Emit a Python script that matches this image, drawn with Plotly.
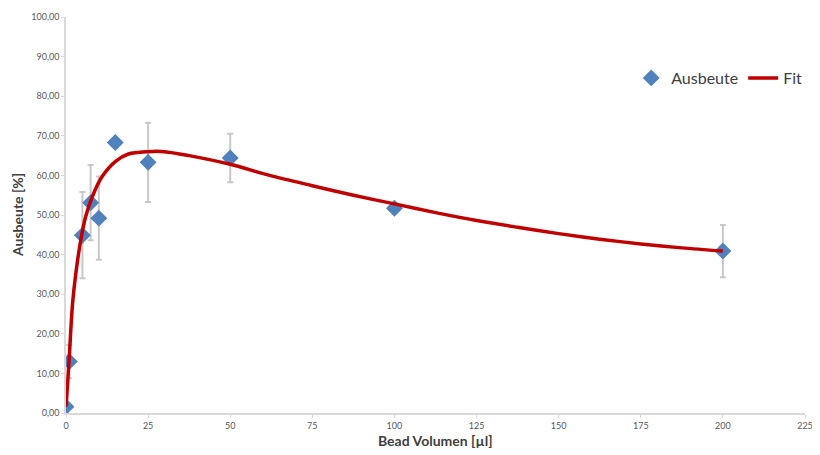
import plotly.graph_objects as go

# Measured data
bead_volume = [0, 1, 5, 7.5, 10, 15, 25, 50, 100, 200]
ausbeute = [1.6, 13.0, 44.9, 53.1, 49.2, 68.3, 63.3, 64.4, 51.7, 40.9]
ausbeute_err = [1.0, 4.2, 10.9, 9.5, 10.5, 0.0, 10.0, 6.1, 0.8, 6.6]

# Fit curve, points
fit_x = [0, 0.5, 1, 2, 3, 4.5, 6, 8, 11, 15, 19, 25, 30, 37.5, 50, 62, 75, 87.5,
         100, 112.5, 125, 137.5, 150, 162.5, 175, 187.5, 200]
fit_y = [1.6, 7.5, 14.2, 27.7, 35.3, 43.7, 49.6, 54.6, 59.7, 63.5, 65.4, 66.0, 66.0, 65.0, 62.8, 60.0, 57.4, 55.0,
         52.8, 50.6, 48.6, 46.9, 45.3, 43.9, 42.7, 41.7, 40.9]

y_ticks = [0, 10, 20, 30, 40, 50, 60, 70, 80, 90, 100]
y_tick_text = [f"{v:.2f}".replace(".", ",") for v in y_ticks]
x_ticks = [0, 25, 50, 75, 100, 125, 150, 175, 200, 225]

fig = go.Figure()
fig.add_trace(go.Scatter(
    x=bead_volume, y=ausbeute, mode="markers", name="Ausbeute",
    marker=dict(symbol="diamond", size=13, color="#4F81BD"),
    error_y=dict(type="data", array=ausbeute_err, visible=True,
                 color="#C8C8C8", thickness=2, width=3),
))
fig.add_trace(go.Scatter(
    x=fit_x, y=fit_y, mode="lines", name="Fit",
    line=dict(color="#C00000", width=3.5, shape="spline", smoothing=0.9),
))

axis_common = dict(showgrid=False, zeroline=False, showline=True, automargin=False,
                   linecolor="#D9D9D9", linewidth=1.5, ticks="outside",
                   ticklen=3, tickcolor="#D9D9D9",
                   tickfont=dict(family="Lato", size=9, color="#595959"))

fig.update_layout(
    width=812, height=447,
    margin=dict(l=58, r=15, t=9, b=42),
    paper_bgcolor="white", plot_bgcolor="white",
    font=dict(family="Lato", color="#404040"),
    xaxis=dict(range=[0, 225], tickvals=x_ticks, **axis_common),
    yaxis=dict(range=[0, 100], tickvals=y_ticks, ticktext=y_tick_text, **axis_common),
    legend=dict(orientation="h", x=1.003, y=0.846, xanchor="right", yanchor="middle",
                font=dict(size=16, color="#404040"), bgcolor="rgba(0,0,0,0)",
                itemwidth=30),
    showlegend=True,
    annotations=[
        dict(text="<b>Bead Volumen [µl]</b>", xref="paper", yref="paper",
             x=0.5, y=-0.0707, xanchor="center", yanchor="middle", showarrow=False,
             font=dict(size=14, color="#404040")),
        dict(text="<b>Ausbeute [%]</b>", xref="paper", yref="paper",
             x=-0.0663, y=0.5, xanchor="center", yanchor="middle", showarrow=False,
             textangle=-90, font=dict(size=14, color="#404040")),
    ],
)

fig.write_html("out.html")
